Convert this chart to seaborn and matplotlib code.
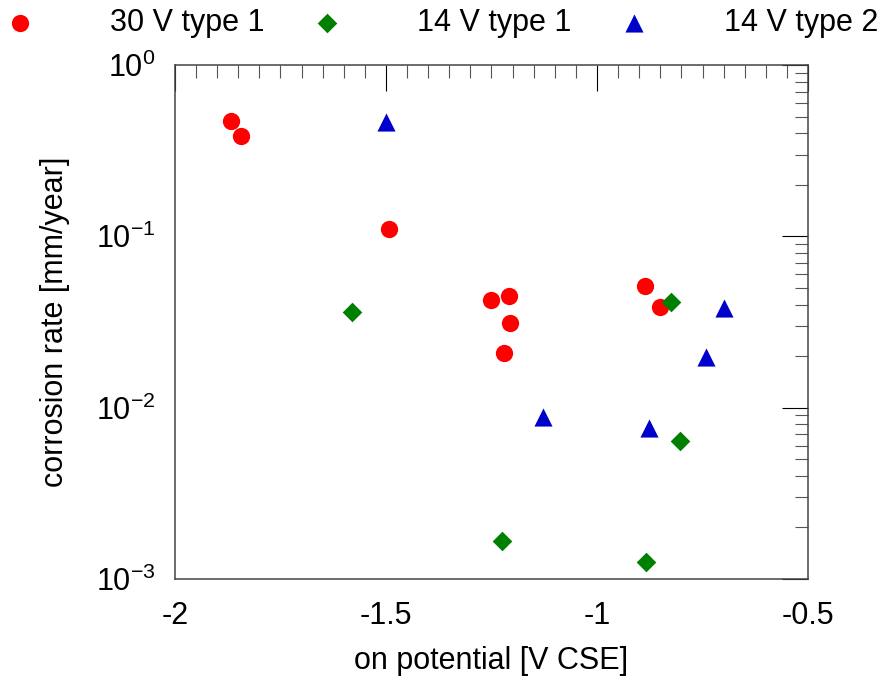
import pandas as pd
import matplotlib.pyplot as plt
import seaborn as sns

# values
red_x = [-1.868, -1.843, -1.492, -1.252, -1.209, -1.207, -1.221, -0.887, -0.851]
red_y = [0.469, 0.384, 0.1108, 0.0425, 0.0448, 0.0312, 0.0208, 0.0513, 0.0387]

green_x = [-1.581, -0.825, -0.804, -1.225, -0.884]
green_y = [0.0361, 0.0413, 0.00638, 0.00166, 0.00126]

blue_x = [-1.500, -1.128, -0.877, -0.742, -0.700]
blue_y = [0.465, 0.00881, 0.0076, 0.0197, 0.0381]

labels = ['30 V type 1', '14 V type 1', '14 V type 2']

red = pd.DataFrame({'pot': red_x, 'rate': red_y})
green = pd.DataFrame({'pot': green_x, 'rate': green_y})
blue = pd.DataFrame({'pot': blue_x, 'rate': blue_y})

sns.set_style('white')
plt.rcParams['font.family'] = ['Liberation Sans', 'DejaVu Sans']
plt.rcParams['axes.unicode_minus'] = False
plt.rcParams['text.color'] = 'black'
plt.rcParams['axes.labelcolor'] = 'black'

fig = plt.figure(figsize=(8.95, 6.9), dpi=100)
ax = fig.add_axes([0.1955, 0.1609, 0.7073, 0.7449])

sns.scatterplot(x='pot', y='rate', data=red, color='#ff0000', marker='o',
                s=155, linewidth=0, label=labels[0], ax=ax)
sns.scatterplot(x='pot', y='rate', data=green, color='#008000', marker='D',
                s=100, linewidth=0, label=labels[1], ax=ax)
sns.scatterplot(x='pot', y='rate', data=blue, color='#0000cc', marker='^',
                s=170, linewidth=0, label=labels[2], ax=ax)

ax.set_yscale('log')
ax.set_xlim(-2, -0.5)
ax.set_ylim(1e-3, 1)
ax.set_xticks([-2, -1.5, -1, -0.5])
ax.set_xticklabels(['-2', '-1.5', '-1', '-0.5'])
ax.set_xticks([-2 + 0.05 * i for i in range(31)], minor=True)

ax.tick_params(which='both', direction='in', top=True, right=True,
               labelsize=22, colors='black')
ax.tick_params(axis='x', which='major', length=19, width=0.8, pad=16)
ax.tick_params(axis='y', which='major', length=19, width=0.8, pad=14)
ax.tick_params(which='minor', length=9.5, width=0.8, color='#555555')

for sp in ax.spines.values():
    sp.set_color('#444444')
    sp.set_linewidth(1.1)

ax.set_xlabel('on potential [V CSE]', fontsize=22)
ax.set_ylabel('corrosion rate [mm/year]', fontsize=22)
ax.xaxis.set_label_coords(0.5, -0.13)
ax.yaxis.set_label_coords(-0.166, 0.5)

handles, labs = ax.get_legend_handles_labels()
ax.get_legend().remove()
fig.legend(handles, labs, loc='center left', bbox_to_anchor=(0.005, 0.967),
           ncol=3, frameon=False, fontsize=22, handlelength=1.0,
           handletextpad=2.44, columnspacing=1.56, borderaxespad=0, borderpad=0)

fig.savefig('out.png', dpi=100)
